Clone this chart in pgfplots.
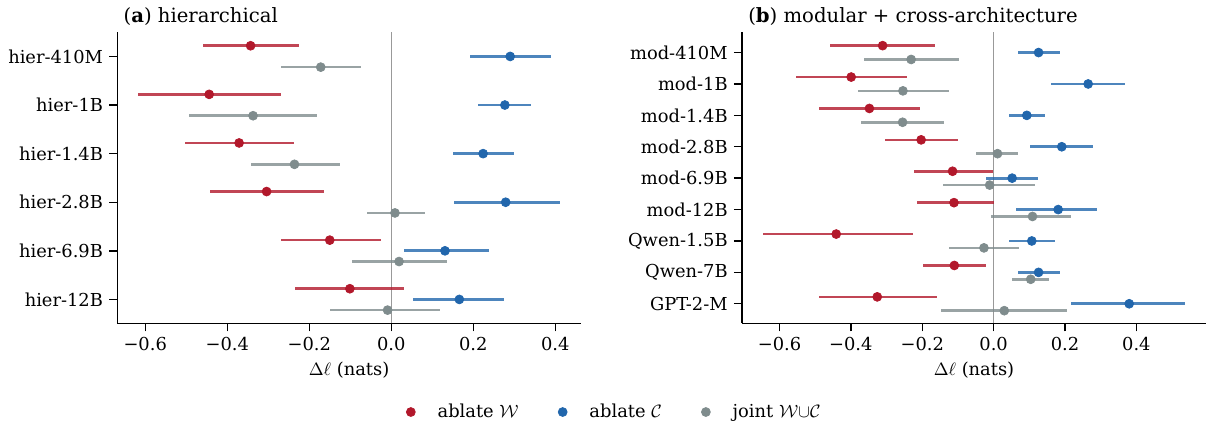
\documentclass[border=0pt]{standalone}
\usepackage{fontspec}
\setmainfont{DejaVu Serif}
\usepackage{pgfplots}
\pgfplotsset{compat=1.18}
\usepackage{pgfplotstable}

\definecolor{cW}{HTML}{B2182B}
\definecolor{cC}{HTML}{2166AC}
\definecolor{cJ}{HTML}{7F8C8D}

% i = row, x = estimate, lo/hi = interval ends
\pgfplotstableread{
i x lo hi
0 -0.343 -0.459 -0.226
1 -0.444 -0.617 -0.270
2 -0.371 -0.503 -0.236
3 -0.304 -0.443 -0.164
4 -0.150 -0.270 -0.026
5 -0.101 -0.234 0.032
}\hierW
\pgfplotstableread{
i x lo hi
0 0.290 0.192 0.389
1 0.277 0.212 0.340
2 0.224 0.151 0.300
3 0.279 0.154 0.412
4 0.131 0.030 0.238
5 0.166 0.052 0.274
}\hierC
\pgfplotstableread{
i x lo hi
0 -0.172 -0.270 -0.074
1 -0.337 -0.494 -0.180
2 -0.236 -0.343 -0.126
3 0.009 -0.060 0.083
4 0.019 -0.096 0.136
5 -0.009 -0.149 0.118
}\hierJ

\pgfplotstableread{
i x lo hi
0 -0.311 -0.459 -0.163
1 -0.399 -0.555 -0.242
2 -0.348 -0.490 -0.205
3 -0.203 -0.303 -0.101
4 -0.115 -0.224 -0.002
5 -0.111 -0.214 0.000
6 -0.441 -0.647 -0.226
7 -0.110 -0.199 -0.021
8 -0.326 -0.490 -0.158
}\modW
\pgfplotstableread{
i x lo hi
0 0.126 0.067 0.186
1 0.265 0.161 0.369
2 0.093 0.044 0.144
3 0.191 0.101 0.278
4 0.052 -0.022 0.124
5 0.181 0.064 0.290
6 0.107 0.044 0.171
7 0.126 0.069 0.187
8 0.380 0.217 0.537
}\modC
\pgfplotstableread{
i x lo hi
0 -0.231 -0.364 -0.097
1 -0.254 -0.381 -0.124
2 -0.255 -0.371 -0.140
3 0.011 -0.048 0.067
4 -0.011 -0.143 0.117
5 0.109 -0.008 0.218
6 -0.027 -0.125 0.071
7 0.104 0.051 0.156
8 0.030 -0.147 0.205
}\modJ

\pgfplotsset{
  forest/.style={
    scale only axis, height=163pt,
    axis x line*=bottom, axis y line*=left,
    axis line style={-, line width=0.75pt},
    tick style={line width=0.75pt, black},
    tick align=outside, major tick length=4.5pt,
    y dir=reverse, ytick={0,...,9},
    xtick={-0.6,-0.4,-0.2,0,0.2,0.4},
    xticklabels={−0.6,−0.4,−0.2,0.0,0.2,0.4},
    tick label style={font=\fontsize{10}{12}\selectfont},
    label style={font=\fontsize{10}{12}\selectfont},
    xlabel={$\Delta\ell$ (nats)},
    xlabel style={yshift=1pt},
    title style={at={(0,1)}, anchor=base west, yshift=-0.5pt, font=\fontsize{11}{13}\selectfont},
    clip=false,
  },
  ebar/.style={
    only marks, mark=*, mark size=2.5pt, color=#1, forget plot,
    error bars/.cd, x dir=both, x explicit, error mark=none,
    error bar style={line width=1.5pt, color=#1, opacity=0.8},
  },
  dot/.style={legend image code/.code={\path[draw=none] (-2.5pt,0pt) -- (13pt,0pt); \fill[#1] (0pt,0pt) circle (2.5pt);}},
}

\begin{document}
\begin{tikzpicture}
\begin{axis}[forest, width=259.5pt,
  xmin=-0.668, xmax=0.462, ymin=-0.5, ymax=5.49,
  yticklabels={hier-410M,hier-1B,hier-1.4B,hier-2.8B,hier-6.9B,hier-12B},
  title={(\textbf{a}) hierarchical},
  legend columns=3,
  legend style={draw=none, at={(1.074,-0.305)}, anchor=center,
    font=\fontsize{10}{12}\selectfont,
    /tikz/every even column/.append style={column sep=20pt}},
  legend cell align=left]
\addplot[forget plot, color=gray!80, line width=0.6pt] coordinates {(0,-0.5) (0,5.49)};
\addplot[ebar=cW] table[x=x, y expr=\thisrow{i}-0.22, x error minus expr=\thisrow{x}-\thisrow{lo}, x error plus expr=\thisrow{hi}-\thisrow{x}] {\hierW};
\addplot[ebar=cC] table[x=x, y=i, x error minus expr=\thisrow{x}-\thisrow{lo}, x error plus expr=\thisrow{hi}-\thisrow{x}] {\hierC};
\addplot[ebar=cJ] table[x=x, y expr=\thisrow{i}+0.22, x error minus expr=\thisrow{x}-\thisrow{lo}, x error plus expr=\thisrow{hi}-\thisrow{x}] {\hierJ};
\addlegendimage{dot=cW}
\addlegendentry{ablate $\mathcal{W}$}
\addlegendimage{dot=cC}
\addlegendentry{ablate $\mathcal{C}$}
\addlegendimage{dot=cJ}
\addlegendentry{joint $\mathcal{W}{\cup}\mathcal{C}$}
\end{axis}

\begin{axis}[forest, width=259.8pt, xshift=349.8pt,
  xmin=-0.705, xmax=0.595, ymin=-0.65, ymax=8.62,
  yticklabels={mod-410M,mod-1B,mod-1.4B,mod-2.8B,mod-6.9B,mod-12B,Qwen-1.5B,Qwen-7B,GPT-2-M},
  title={(\textbf{b}) modular + cross-architecture}]
\addplot[forget plot, color=gray!80, line width=0.6pt] coordinates {(0,-0.65) (0,8.62)};
\addplot[ebar=cW] table[x=x, y expr=\thisrow{i}-0.22, x error minus expr=\thisrow{x}-\thisrow{lo}, x error plus expr=\thisrow{hi}-\thisrow{x}] {\modW};
\addplot[ebar=cC] table[x=x, y=i, x error minus expr=\thisrow{x}-\thisrow{lo}, x error plus expr=\thisrow{hi}-\thisrow{x}] {\modC};
\addplot[ebar=cJ] table[x=x, y expr=\thisrow{i}+0.22, x error minus expr=\thisrow{x}-\thisrow{lo}, x error plus expr=\thisrow{hi}-\thisrow{x}] {\modJ};
\end{axis}
\pgfresetboundingbox
\path (-65.7pt,-55.8pt) rectangle (610.2pt,181.0pt);
\end{tikzpicture}
\end{document}
